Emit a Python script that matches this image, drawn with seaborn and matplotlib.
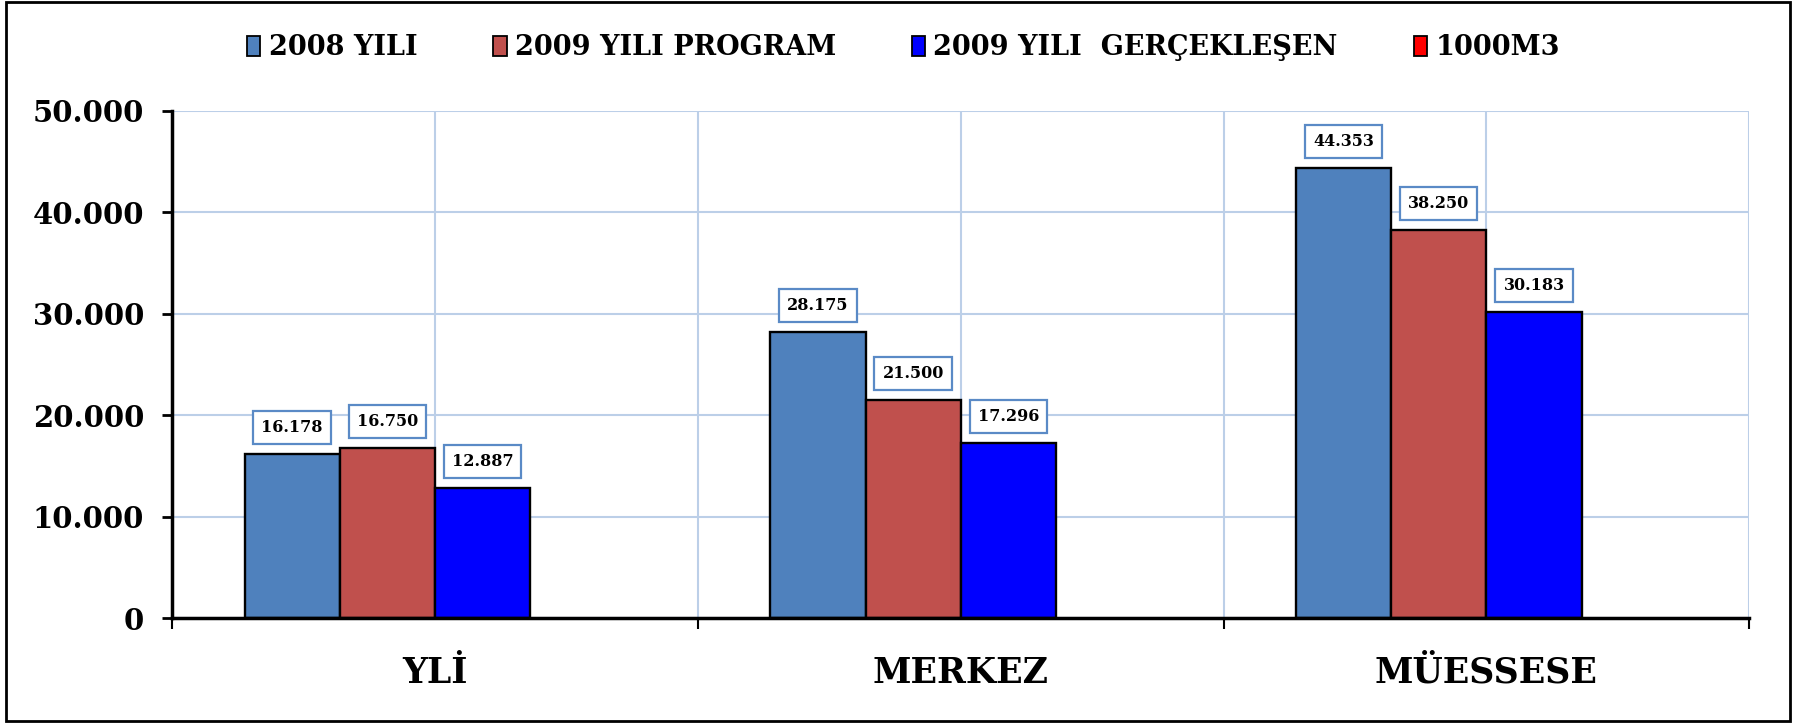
import matplotlib
matplotlib.use("Agg")
import matplotlib.pyplot as plt
from matplotlib.patches import Patch, Rectangle
from matplotlib.ticker import FixedLocator
import numpy as np
import pandas as pd
import seaborn as sns

categories = ["YLİ", "MERKEZ", "MÜESSESE"]
series_names = ["2008 YILI", "2009 YILI PROGRAM", "2009 YILI  GERÇEKLEŞEN", "1000M3"]
vals_2008 = [16178, 28175, 44353]
vals_2009_program = [16750, 21500, 38250]
vals_2009_real = [12887, 17296, 30183]
vals_1000m3 = [np.nan, np.nan, np.nan]
colors = ["#4F81BD", "#C0504D", "#0000FF", "#FF0000"]
y_ticks = [0, 10000, 20000, 30000, 40000, 50000]
y_tick_labels = ["0", "10.000", "20.000", "30.000", "40.000", "50.000"]

all_vals = [vals_2008, vals_2009_program, vals_2009_real, vals_1000m3]
rows = []
for s, vs in zip(series_names, all_vals):
    for c, v in zip(categories, vs):
        rows.append({"cat": c, "series": s, "val": v})
df = pd.DataFrame(rows)

sns.set_style("white")
plt.rcParams["font.family"] = ["DejaVu Serif"]
plt.rcParams["font.weight"] = "bold"
plt.rcParams["text.color"] = "black"
plt.rcParams["xtick.color"] = "black"
plt.rcParams["ytick.color"] = "black"
plt.rcParams["xtick.labelcolor"] = "black"
plt.rcParams["ytick.labelcolor"] = "black"

fig = plt.figure(figsize=(17.96, 7.25), dpi=100)
ax = fig.add_axes([0.0958, 0.147, 0.8782, 0.700])

sns.barplot(data=df, x="cat", y="val", hue="series", order=categories,
            hue_order=series_names, palette=colors, width=0.724,
            edgecolor="black", linewidth=1.7, saturation=1, ax=ax,
            legend=False, errorbar=None)

ax.set_xlim(-0.5, 2.5)
ax.set_ylim(0, 50000)
ax.set_yticks(y_ticks)
ax.set_yticklabels(y_tick_labels, fontsize=21, fontweight="bold", color="black")
ax.set_xticks(range(len(categories)))
ax.set_xticklabels(categories, fontsize=25, fontweight="bold", color="black")
ax.xaxis.set_minor_locator(FixedLocator([-0.5, 0.5, 1.5, 2.5]))
ax.tick_params(axis="x", which="major", length=0, pad=27)
ax.tick_params(axis="x", which="minor", length=8, width=1.5, direction="out", bottom=True)
ax.tick_params(axis="y", which="major", length=7, width=2, direction="out", left=True, pad=13)
ax.set_xlabel("")
ax.set_ylabel("")

grid_col = "#bccfe8"
ax.grid(axis="y", color=grid_col, linewidth=1.5)
ax.grid(axis="x", which="both", color=grid_col, linewidth=1.5)
ax.set_axisbelow(True)

for side in ["top", "right"]:
    ax.spines[side].set_visible(False)
for side in ["left", "bottom"]:
    ax.spines[side].set_color("black")
    ax.spines[side].set_linewidth(2.5)

label_sets = [vals_2008, vals_2009_program, vals_2009_real]
for cont, vs in zip(ax.containers[:3], label_sets):
    labels = [f"{v:,.0f}".replace(",", ".") for v in vs]
    texts = ax.bar_label(cont, labels=labels, padding=13, fontsize=11.5,
                         fontweight="bold", color="black")
    for t in texts:
        t.set_bbox(dict(boxstyle="square,pad=0.5", facecolor="white",
                        edgecolor="#5a8ac6", linewidth=1.6))

handles = [Patch(facecolor=c, edgecolor="black", linewidth=1.3) for c in colors]
fig.legend(handles, series_names, loc="center", bbox_to_anchor=(0.503, 0.934),
           ncol=4, frameon=False, prop={"weight": "bold", "size": 19.5},
           handlelength=0.5, handleheight=0.75, handletextpad=0.3, columnspacing=2.8)

fig.patches.append(Rectangle((0.0035, 0.005), 0.993, 0.992, transform=fig.transFigure,
                             fill=False, edgecolor="black", linewidth=2))

fig.savefig("out.png", dpi=100)
